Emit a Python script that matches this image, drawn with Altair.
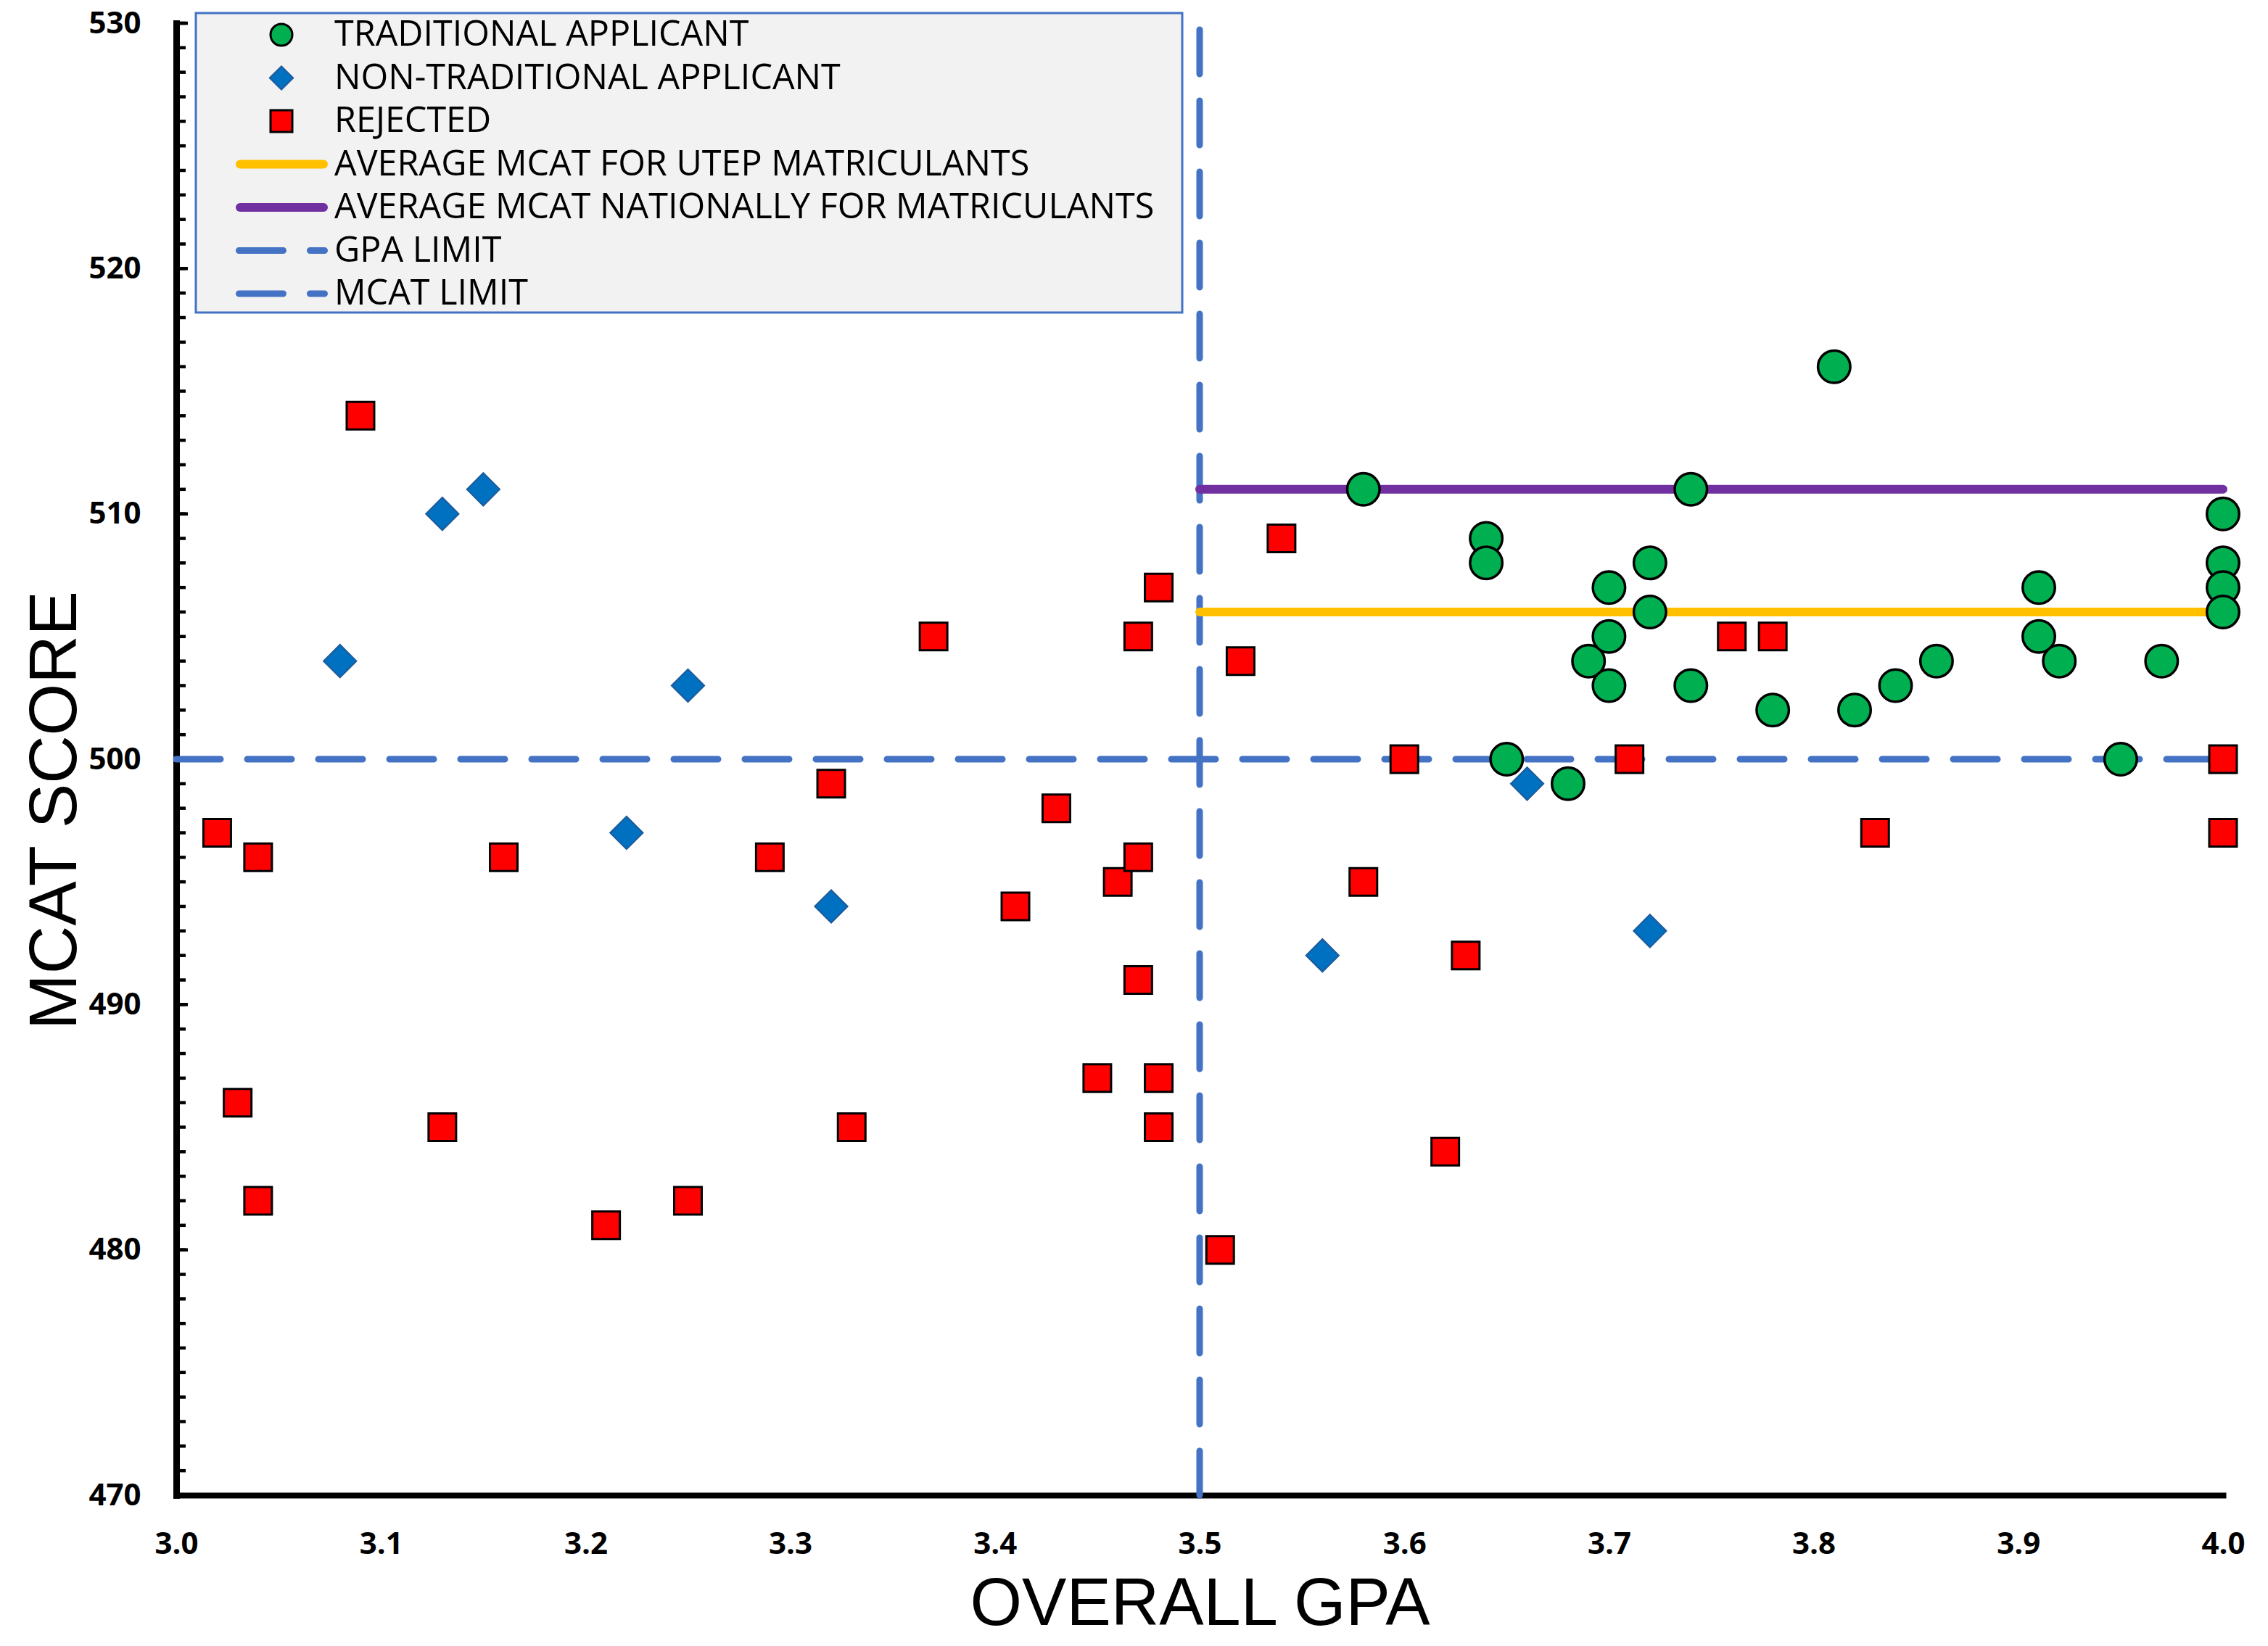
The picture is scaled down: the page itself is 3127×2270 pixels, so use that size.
import altair as alt
import pandas as pd

# ---------------- data ----------------
trad_gpa = [3.58, 3.64, 3.64, 3.65, 3.68, 3.69, 3.70, 3.70, 3.70, 3.72, 3.72, 3.74, 3.74, 3.78,
            3.81, 3.82, 3.84, 3.86, 3.91, 3.91, 3.92, 3.95, 3.97, 4.00, 4.00, 4.00, 4.00]
trad_mcat = [511, 509, 508, 500, 499, 504, 507, 505, 503, 508, 506, 511, 503, 502,
             516, 502, 503, 504, 507, 505, 504, 500, 504, 510, 508, 507, 506]

nontrad_gpa = [3.08, 3.13, 3.15, 3.22, 3.25, 3.32, 3.56, 3.66, 3.72]
nontrad_mcat = [504, 510, 511, 497, 503, 494, 492, 499, 493]

rej_gpa = [3.02, 3.03, 3.04, 3.04, 3.09, 3.13, 3.16, 3.21, 3.25, 3.29, 3.32, 3.33, 3.37, 3.41,
           3.43, 3.45, 3.46, 3.47, 3.47, 3.47, 3.48, 3.48, 3.48, 3.51, 3.52, 3.54, 3.58, 3.60,
           3.62, 3.63, 3.71, 3.76, 3.78, 3.83, 4.00, 4.00]
rej_mcat = [497, 486, 496, 482, 514, 485, 496, 481, 482, 496, 499, 485, 505, 494,
            498, 487, 495, 505, 496, 491, 507, 487, 485, 480, 504, 509, 495, 500,
            484, 492, 500, 505, 505, 497, 500, 497]

avg_utep = 506
avg_national = 511
gpa_limit = 3.5
mcat_limit = 500
gpa_range = [3.0, 4.0]
mcat_range = [470, 530]

x_ticks = [3.0, 3.1, 3.2, 3.3, 3.4, 3.5, 3.6, 3.7, 3.8, 3.9, 4.0]
y_ticks = [470, 480, 490, 500, 510, 520, 530]

legend_labels = [
    "TRADITIONAL APPLICANT",
    "NON-TRADITIONAL APPLICANT",
    "REJECTED",
    "AVERAGE MCAT FOR UTEP MATRICULANTS",
    "AVERAGE MCAT NATIONALLY FOR MATRICULANTS",
    "GPA LIMIT",
    "MCAT LIMIT",
]

GREEN = "#00B050"
BLUE = "#0070C0"
RED = "#FF0000"
YELLOW = "#FFC000"
PURPLE = "#7030A0"
DASH = "#4472C4"

W, H = 2822, 2030

xs = alt.Scale(domain=gpa_range, nice=False, zero=False)
ys = alt.Scale(domain=mcat_range, nice=False, zero=False)

x_axis = alt.Axis(values=x_ticks, format=".1f", ticks=False, grid=False,
                  domainWidth=8, domainColor="black", domainCap="square",
                  labelFont="Open Sans", labelFontWeight="bold", labelFontSize=42,
                  labelColor="black", labelPadding=47, labelFlush=False, labelOverlap=False,
                  title="OVERALL GPA", titleFont="Liberation Sans", titleFontSize=92,
                  titleFontWeight="normal", titleColor="black", titleX=W / 2, titleY=178,
                  titleBaseline="alphabetic", titleAlign="center")
y_axis = alt.Axis(values=y_ticks, format="d", ticks=False, grid=False,
                  domainWidth=9, domainColor="black", domainCap="square",
                  labelFont="Open Sans", labelFontWeight="bold", labelFontSize=42,
                  labelColor="black", labelPadding=49, labelFlush=False, labelOverlap=False,
                  title="MCAT SCORE", titleFont="Liberation Sans", titleFontSize=92,
                  titleFontWeight="normal", titleColor="black", titleX=-139, titleY=1085,
                  titleAngle=270, titleBaseline="alphabetic", titleAlign="center")

trad_df = pd.DataFrame({"gpa": trad_gpa, "mcat": trad_mcat})
nontrad_df = pd.DataFrame({"gpa": nontrad_gpa, "mcat": nontrad_mcat})
rej_df = pd.DataFrame({"gpa": rej_gpa, "mcat": rej_mcat})

# inward minor / major ticks on the y axis
minor = [v for v in range(mcat_range[0], mcat_range[1] + 1)]
minor_df = pd.DataFrame({"mcat": minor})
minor_ticks = alt.Chart(minor_df).mark_rule(color="black", strokeWidth=4.5).encode(
    y=alt.Y("mcat:Q", scale=ys, axis=y_axis),
    x=alt.value(0), x2=alt.value(13),
)
major_df = pd.DataFrame({"mcat": y_ticks})
major_ticks = alt.Chart(major_df).mark_rule(color="black", strokeWidth=4.5).encode(
    y=alt.Y("mcat:Q", scale=ys),
    x=alt.value(0), x2=alt.value(16),
)

# limit lines
gpa_lim_df = pd.DataFrame({"gpa": [gpa_limit], "y0": [mcat_range[0]], "y1": [mcat_range[1]]})
gpa_lim = alt.Chart(gpa_lim_df).mark_rule(color=DASH, strokeWidth=9, strokeDash=[61, 37],
                                          strokeCap="round").encode(
    x=alt.X("gpa:Q", scale=xs, axis=x_axis),
    y=alt.Y("y0:Q", scale=ys), y2="y1:Q",
)
mcat_lim_df = pd.DataFrame({"mcat": [mcat_limit], "x0": [gpa_range[0]], "x1": [gpa_range[1]]})
mcat_lim = alt.Chart(mcat_lim_df).mark_rule(color=DASH, strokeWidth=9, strokeDash=[61, 37],
                                            strokeCap="round").encode(
    x=alt.X("x0:Q", scale=xs), x2="x1:Q",
    y=alt.Y("mcat:Q", scale=ys),
)

avg_df = pd.DataFrame({"mcat": [avg_utep, avg_national], "x0": [gpa_limit, gpa_limit],
                       "x1": [gpa_range[1], gpa_range[1]], "c": [YELLOW, PURPLE]})
avg_lines = alt.Chart(avg_df).mark_rule(strokeWidth=12, strokeCap="round").encode(
    x=alt.X("x0:Q", scale=xs), x2="x1:Q",
    y=alt.Y("mcat:Q", scale=ys),
    color=alt.Color("c:N", scale=None, legend=None),
)

trad = alt.Chart(trad_df).mark_point(shape="circle", filled=True, fill=GREEN, stroke="black",
                                     strokeWidth=3.5, size=1980, opacity=1).encode(
    x=alt.X("gpa:Q", scale=xs), y=alt.Y("mcat:Q", scale=ys))
nontrad = alt.Chart(nontrad_df).mark_point(shape="diamond", filled=True, fill=BLUE,
                                           stroke="#1F5A9A", strokeWidth=2, size=2050,
                                           opacity=1).encode(
    x=alt.X("gpa:Q", scale=xs), y=alt.Y("mcat:Q", scale=ys))
rej = alt.Chart(rej_df).mark_point(shape="square", filled=True, fill=RED, stroke="black",
                                   strokeWidth=3, size=1444, opacity=1).encode(
    x=alt.X("gpa:Q", scale=xs), y=alt.Y("mcat:Q", scale=ys))

# ---------------- hand-built legend box ----------------
one = pd.DataFrame({"k": [0]})
leg_layers = [
    alt.Chart(one).mark_rect(fill="#F2F2F2", stroke=DASH, strokeWidth=3).encode(
        x=alt.value(27), x2=alt.value(1387), y=alt.value(-14), y2=alt.value(399))
]
row_y = [16 + 59.5 * i for i in range(len(legend_labels))]
sym_specs = [
    dict(shape="circle", fill=GREEN, stroke="black", strokeWidth=3, size=900),
    dict(shape="diamond", fill=BLUE, stroke="#1F5A9A", strokeWidth=2, size=1050),
    dict(shape="square", fill=RED, stroke="black", strokeWidth=3, size=900),
]
for i, spec in enumerate(sym_specs):
    leg_layers.append(alt.Chart(one).mark_point(filled=True, opacity=1, **spec).encode(
        x=alt.value(145), y=alt.value(row_y[i])))
for i, col in [(3, YELLOW), (4, PURPLE)]:
    leg_layers.append(alt.Chart(one).mark_rule(color=col, strokeWidth=12, strokeCap="round").encode(
        x=alt.value(88), x2=alt.value(203), y=alt.value(row_y[i])))
for i in (5, 6):
    leg_layers.append(alt.Chart(one).mark_rule(color=DASH, strokeWidth=9, strokeCap="round",
                                               strokeDash=[61, 37]).encode(
        x=alt.value(86.5), x2=alt.value(204.5), y=alt.value(row_y[i])))
for i, lab in enumerate(legend_labels):
    leg_layers.append(alt.Chart(one).mark_text(text=lab, font="Open Sans", fontSize=48.5,
                                               align="left", baseline="alphabetic",
                                               color="black").encode(
        x=alt.value(218), y=alt.value(row_y[i] + 15)))

chart = alt.layer(
    minor_ticks, major_ticks, gpa_lim, mcat_lim, avg_lines, trad, nontrad, rej, *leg_layers
).properties(
    width=W, height=H,
    autosize=alt.AutoSizeParams(type="none"),
    padding={"left": 235, "top": 24, "right": 30, "bottom": 198},
    background="white",
).configure_view(stroke=None)

chart.save("out.html", embed_options={"renderer": "svg", "actions": False})
